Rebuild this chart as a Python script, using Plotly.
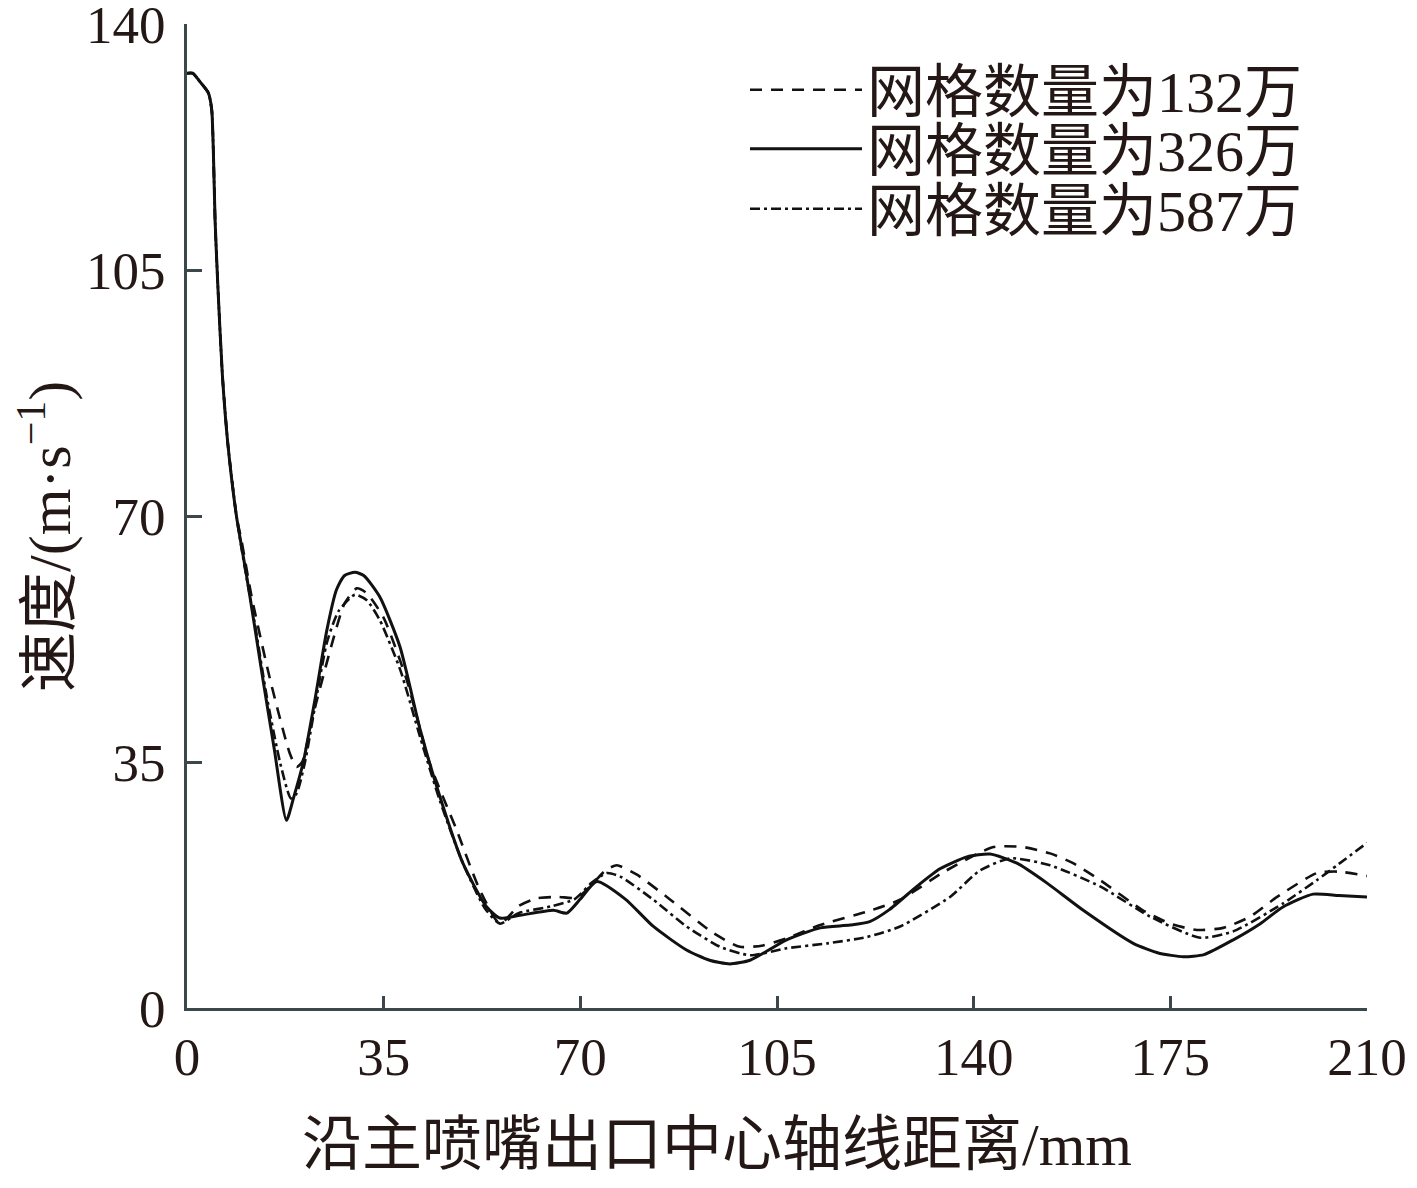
import plotly.graph_objects as go

# ---- data ----
x_326 = [0, 1, 2.3, 3.8, 4.4, 4.7, 5.0, 5.5, 6.3, 7.3, 8.8, 10.5, 12.0, 13.5, 15.5, 17.7,
         19.0, 20.7, 22.8, 24.9, 26.6, 28.0, 29.9, 31.5, 34.3, 37.9, 41.5, 45.0, 49.1,
         53.3, 55.7, 59.3, 65.2, 67.6, 70.0, 72.9, 78.0, 83.0, 88.9, 93.0, 96.6, 100.2,
         103.0, 106.7, 112.7, 118.0, 121.5, 125.0, 129.9, 134.0, 138.8, 142.9, 147.7,
         153.0, 159.5, 168.4, 173.0, 177.3, 181.0, 186.2, 191.0, 195.1, 200.4, 205.0, 210.0]
y_326 = [133, 133, 131.8, 130.2, 127.8, 121.6, 112, 102.6, 90, 80, 70, 62, 54.5, 46.8, 37, 26.7,
         30, 35, 44, 53.8, 59.5, 61.5, 62, 61.5, 58.5, 51.4, 39.6, 30.1, 20.6,
         14.4, 12.8, 13.2, 13.9, 13.5, 15.5, 18, 15.5, 11.6, 8.25, 6.8, 6.26, 6.8,
         8, 9.7, 11.4, 11.8, 12.3, 14, 17.3, 19.8, 21.5, 21.9, 20.6,
         17.8, 13.9, 9.2, 7.8, 7.3, 7.6, 9.7, 12, 14.4, 16.2, 16.0, 15.8]

x_132 = [0, 1, 2.3, 3.8, 4.4, 4.7, 5.0, 5.5, 6.3, 7.3, 8.8, 9.7, 11.5, 14.8, 18.3, 19.5, 20.5,
         22.5, 26.0, 28.0, 30.2, 32.0, 35.0, 39.1, 43.2, 48.0, 52.0, 55.7, 59.0, 62.2,
         66.0, 69.4, 72.0, 74.5, 76.5, 80.0, 85.4, 93.6, 98.4, 102.5, 106.7, 112.7,
         121.0, 126.9, 135.0, 143.5, 148.8, 153.6, 157.7, 162.5, 170.1, 175.0, 179.7,
         184.4, 189.2, 194.0, 201.1, 205.0, 210.0]
y_132 = [133, 133, 131.8, 130.2, 127.8, 121.6, 112, 102.6, 90, 80, 70, 66.5, 58.5, 46.7, 36.2, 34.3, 35,
         41.9, 52.4, 57.5, 59.7, 59, 55.5, 46.7, 34.8, 25.3, 17, 12, 14.5, 15.6,
         15.8, 15.7, 17.5, 19.6, 20.3, 19, 15.8, 10.7, 8.7, 8.9, 9.9, 11.8,
         13.7, 15.4, 19.5, 22.9, 22.9, 22, 20.6, 18.2, 13.9, 12, 11.1,
         11.4, 13, 15.8, 19.2, 19.4, 18.8]

x_587 = [0, 1, 2.3, 3.8, 4.4, 4.7, 5.0, 5.5, 6.3, 7.3, 8.8, 10.0, 12.0, 14.2, 16.6, 18.5, 19.5,
         21.0, 24.9, 27.0, 29.9, 32.0, 34.3, 38.0, 41.5, 45.0, 49.1, 53.0, 55.7, 59.0,
         65.0, 69.0, 72.0, 74.7, 77.1, 83.0, 88.9, 94.9, 100.2, 106.7, 114.0, 121.0,
         126.9, 135.8, 141.0, 146.5, 153.6, 162.5, 171.4, 180.3, 186.2, 195.1, 201.1,
         205.0, 210.0]
y_587 = [133, 133, 131.8, 130.2, 127.8, 121.6, 112, 102.6, 90, 80, 70, 64, 55, 44.3, 34.8, 29.8, 30.5,
         35, 52, 56.5, 58.8, 58, 55.2, 48, 38.5, 29.5, 20.6, 14.2, 12, 13.5,
         14.5, 15.5, 17.8, 19.2, 18.7, 15.4, 11.6, 8.7, 7.5, 8.5, 9.2, 10.1,
         11.6, 15.8, 19.5, 21.3, 20.3, 17.3, 13, 10, 10.9, 14.9, 18.2,
         20.5, 23.5]

names = ["网格数量为132万", "网格数量为326万", "网格数量为587万"]
x_ticks = [0, 35, 70, 105, 140, 175, 210]
y_ticks = [0, 35, 70, 105, 140]
x_title = "沿主喷嘴出口中心轴线距离/mm"
y_title = "速度/(m·s<sup>−1</sup>)"

FONT = "Liberation Serif, Times New Roman, Noto Sans CJK SC"
INK = "#231815"

# figure geometry (page body adds an 8px offset)
W, H = 1401, 1172
L, T, R, B = 179, 16, 42, 172
PW, PH = W - L - R, H - T - B

fig = go.Figure()
fig.add_trace(go.Scatter(x=x_132, y=y_132, name=names[0], mode="lines", legend="legend",
                         showlegend=True,
                         line=dict(color="#111111", width=2.6, dash="12px,9px",
                                   shape="spline", smoothing=0.6)))
fig.add_trace(go.Scatter(x=x_326, y=y_326, name=names[1], mode="lines", legend="legend2",
                         showlegend=True,
                         line=dict(color="#111111", width=3, shape="spline", smoothing=0.6)))
fig.add_trace(go.Scatter(x=x_587, y=y_587, name=names[2], mode="lines", legend="legend3",
                         showlegend=True,
                         line=dict(color="#111111", width=2.6, dash="10px,4px,3px,4px",
                                   shape="spline", smoothing=0.6)))

axis_common = dict(showline=True, linecolor="#3c474c", linewidth=3, ticks="inside",
                   tickcolor="#3c474c", tickwidth=2.5, showgrid=False, zeroline=False,
                   mirror=False, automargin=False, ticklabeloverflow="allow",
                   tickfont=dict(family=FONT, size=53, color=INK))

fig.update_xaxes(range=[0, 210], tickvals=x_ticks, ticklen=12, **axis_common)
fig.update_yaxes(range=[0, 140], tickvals=y_ticks, ticklen=15, ticklabelstandoff=8,
                 **axis_common)

def py(px_win):
    return (H - B - (px_win - 8)) / PH

leg_common = dict(x=(737 - L) / PW, xanchor="left", yanchor="middle",
                  bgcolor="rgba(0,0,0,0)", itemwidth=112,
                  font=dict(family=FONT, size=58, color=INK))

fig.update_layout(
    width=W, height=H, showlegend=True,
    margin=dict(l=L, r=R, t=T, b=B, autoexpand=False),
    plot_bgcolor="white", paper_bgcolor="white",
    font=dict(family=FONT, color=INK),
    legend=dict(y=(H - B - 82) / PH, **leg_common),
    legend2=dict(y=(H - B - 141) / PH, **leg_common),
    legend3=dict(y=(H - B - 201) / PH, **leg_common),
    annotations=[
        dict(text=x_title, xref="paper", yref="paper",
             x=(717 - 8 - L) / PW, y=py(1145), xanchor="center", yanchor="middle",
             showarrow=False, font=dict(family=FONT, size=60, color=INK)),
        dict(text=y_title, xref="paper", yref="paper", textangle=-90,
             x=(45 - 8 - L) / PW, y=py(537), xanchor="center", yanchor="middle",
             showarrow=False, font=dict(family=FONT, size=60, color=INK)),
    ],
)

fig.write_html("out.html")
